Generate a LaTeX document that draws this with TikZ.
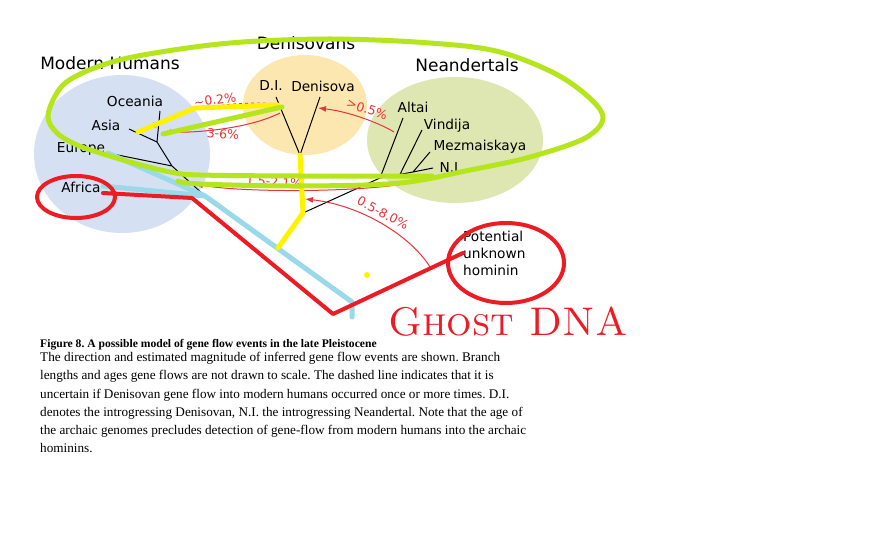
\documentclass[tikz,border=0pt]{standalone}
\usepackage{fontspec}
\usetikzlibrary{arrows.meta}
\newfontfamily\labfont{DejaVu Sans}
\newfontfamily\capfont{Liberation Serif}
\definecolor{humanfill}{RGB}{213,225,243}
\definecolor{denifill}{RGB}{252,231,176}
\definecolor{neanfill}{RGB}{222,231,178}
\definecolor{flowred}{RGB}{232,52,60}
\definecolor{mgreen}{RGB}{181,230,29}
\definecolor{myellow}{RGB}{255,242,0}
\definecolor{mred}{RGB}{237,28,36}
\definecolor{mblue}{RGB}{153,217,234}
\begin{document}
\frenchspacing
\begin{tikzpicture}[x=1pt, y=-1pt, >={Latex[length=8pt,width=6pt]},
		grp/.style={font=\labfont\fontsize{17}{20}\selectfont, inner sep=0pt},
		lab/.style={font=\labfont\fontsize{13.7}{17}\selectfont, inner sep=0pt},
		pct/.style={font=\labfont\fontsize{12.5}{14}\selectfont, text=flowred, inner sep=0pt},
		flow/.style={->, flowred, line width=1pt},
		branch/.style={black, line width=1pt},
		marker/.style={line width=5pt, line cap=round, line join=round}]
	\useasboundingbox (0,0) rectangle (870,548);
	\fill[white] (0,0) rectangle (870,548);
	\fill[humanfill] (122,154) ellipse (88 and 79);
	\fill[denifill] (305,105) ellipse (62 and 50);
	\fill[neanfill] (455,140) ellipse (88 and 63);
	\node[grp] (mh) at (110,63) {Modern Humans};
	\node[grp] (den) at (306,43) {Denisovans};
	\node[grp] (nea) at (467,65) {Neandertals};
	\node[lab] (oce) at (135,101) {Oceania};
	\node[lab] (asia) at (106,125) {Asia};
	\node[lab] (eur) at (81,149) {Europe};
	\node[lab] (afr) at (81,187) {Africa};
	\node[lab] (di) at (271,86) {D.I.};
	\node[lab] (deni) at (323,86) {Denisova};
	\node[lab] (altai) at (413,107) {Altai};
	\node[lab] (vind) at (447,126) {Vindija};
	\node[lab] (mez) at (480,147) {Mezmaiskaya};
	\node[lab] (ni) at (451,168) {N.I.};
	\node[lab, align=left, anchor=west] (unk) at (463,253) {Potential\\unknown\\hominin};
	\coordinate (oceT) at (160,111);
	\coordinate (asiaT) at (129,129);
	\coordinate (euT) at (108,153);
	\coordinate (afT) at (103,186);
	\coordinate (jOA) at (157,142);
	\coordinate (jOAE) at (172,166);
	\coordinate (jMH) at (205,196);
	\coordinate (root) at (352,302);
	\coordinate (rootB) at (352,317);
	\coordinate (diT) at (276,97);
	\coordinate (denT) at (320,97);
	\coordinate (jD) at (300,155);
	\coordinate (jDb) at (303,213);
	\coordinate (jDN) at (278,248);
	\coordinate (altT) at (403,118);
	\coordinate (vindT) at (422,130);
	\coordinate (mezT) at (430,152);
	\coordinate (niT) at (433,168);
	\coordinate (jN) at (413,172);
	\coordinate (jV) at (400,174.4);
	\coordinate (jA) at (380,178);
	\draw[branch] (oceT) -- (jOA) (asiaT) -- (jOA) -- (jOAE) (euT) -- (jOAE) -- (jMH);
	\draw[branch] (afT) -- (jMH) -- (root) -- (rootB);
	\draw[branch] (diT) -- (jD) (denT) -- (jD) -- (jDb) -- (jDN);
	\draw[branch] (altT) -- (jA) (vindT) -- (jV) (mezT) -- (jN) (niT) -- (jN) -- (jV) -- (jA) -- (jDb);
	\draw[flow, dashed] (278,104) .. controls (230,100) and (180,110) .. (148,129);
	\draw[flow] (280,113) .. controls (250,128) and (200,133) .. (163,132);
	\draw[flow] (394,132) .. controls (383,125) and (352,112) .. (318,108);
	\draw[flow] (425,178) .. controls (400,192) and (250,194) .. (195,184);
	\draw[flow] (430,267) .. controls (410,235) and (360,205) .. (305,199);
	\node[pct, rotate=8] (p02) at (215,100) {\textasciitilde0.2\%};
	\node[pct, rotate=-5] (p36) at (223,134) {3-6\%};
	\node[pct, rotate=-18] (p05) at (367,109) {>0.5\%};
	\node[pct, rotate=-4] (p15) at (274,182) {1.5-2.1\%};
	\node[pct, rotate=-28] (p08) at (383,213) {0.5-8.0\%};
	\draw[marker, mblue] (euT) -- (jMH) (afT) -- (jMH) -- (root) -- (rootB);
	\draw[marker, myellow] (jD) -- (jDb) -- (jDN);
	\draw[marker, myellow] (278,105) -- (195,108) -- (138,132);
	\fill[myellow] (367,275) circle (3);
	\draw[marker, mgreen] (282,107) -- (163,134);
	\draw[marker, mgreen] plot[smooth, tension=0.55] coordinates {(432,176) (300,176) (200,175) (170,172) (130,162) (97,152) (77,145) (57,133) (48,115) (63,85) (97,67) (143,55) (230,43) (330,39) (430,43) (500,52) (563,78) (602,113) (587,137) (530,157) (470,170) (400,183) (300,186) (200,184) (178,181)};
	\draw[mred, line width=4pt] (76,197) ellipse (39 and 21);
	\draw[mred, line width=4pt] (506,263) ellipse (58 and 40);
	\draw[marker, mred, line width=4pt] (103,193) -- (192,198) -- (333,314) -- (463,253);
	\node[text=mred, font=\fontsize{40}{44}\selectfont\scshape, inner sep=0pt, anchor=base west] (ghostdna) at (388,335) {Ghost DNA};
	\node[font=\capfont\bfseries\fontsize{11.6}{13}\selectfont, inner sep=0pt, anchor=base west] (figtitle) at (40,347) {Figure 8. A possible model of gene flow events in the late Pleistocene};
	\foreach \txt [count=\i] in {{The direction and estimated magnitude of inferred gene flow events are shown. Branch},
		{lengths and ages gene flows are not drawn to scale. The dashed line indicates that it is},
		{uncertain if Denisovan gene flow into modern humans occurred once or more times. D.I.},
		{denotes the introgressing Denisovan, N.I. the introgressing Neandertal. Note that the age of},
		{the archaic genomes precludes detection of gene-flow from modern humans into the archaic},
		{hominins.}} {
			\node[font=\capfont\fontsize{13.2}{15}\selectfont, inner sep=0pt, anchor=base west] (cap\i) at (40,343.5+18.2*\i) {\txt};
		}
\end{tikzpicture}
\end{document}
